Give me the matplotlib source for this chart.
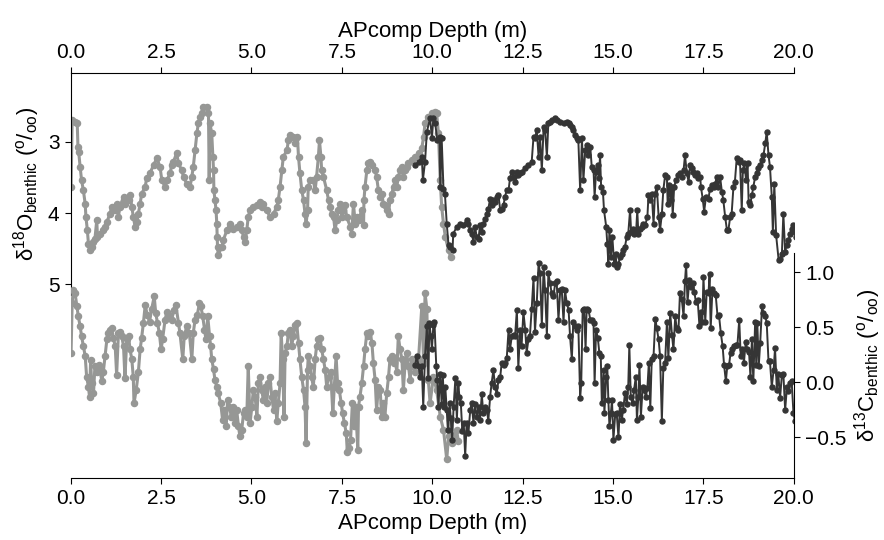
import matplotlib
matplotlib.use("Agg")
import matplotlib.pyplot as plt

plt.rcParams['font.family'] = ['Liberation Sans', 'DejaVu Sans']
plt.rcParams['mathtext.fontset'] = 'custom'
plt.rcParams['mathtext.rm'] = 'Liberation Sans'
plt.rcParams['mathtext.it'] = 'Liberation Sans:italic'
plt.rcParams['axes.unicode_minus'] = True

# d18O, older (light) record
d18_light_depth = [0.01, 0.04, 0.12, 0.18, 0.20, 0.22, 0.26, 0.30, 0.35, 0.40, 0.42, 0.46, 0.49, 0.53,
                   0.58, 0.63, 0.67, 0.72, 0.74, 0.81, 0.90, 0.95, 1.00, 1.09, 1.13, 1.23, 1.27, 1.32,
                   1.36, 1.46, 1.50, 1.60, 1.64, 1.69, 1.73, 1.78, 1.83, 1.87, 1.92, 1.96, 2.06, 2.10,
                   2.19, 2.29, 2.38, 2.47, 2.52, 2.61, 2.66, 2.75, 2.79, 2.84, 2.93, 2.98, 3.07, 3.12,
                   3.21, 3.30, 3.35, 3.39, 3.44, 3.49, 3.53, 3.58, 3.62, 3.67, 3.76, 3.81, 3.83, 3.85,
                   3.90, 3.93, 3.95, 3.96, 3.99, 4.02, 4.04, 4.05, 4.06, 4.08, 4.18, 4.22, 4.32, 4.41,
                   4.50, 4.59, 4.68, 4.73, 4.78, 4.82, 4.87, 4.91, 4.96, 5.05, 5.15, 5.24, 5.28, 5.33,
                   5.42, 5.51, 5.61, 5.70, 5.74, 5.79, 5.84, 5.88, 5.98, 6.02, 6.07, 6.16, 6.21, 6.27,
                   6.30, 6.34, 6.39, 6.44, 6.48, 6.51, 6.55, 6.57, 6.62, 6.71, 6.76, 6.80, 6.85, 6.88,
                   6.92, 6.94, 6.99, 7.08, 7.13, 7.17, 7.22, 7.27, 7.31, 7.36, 7.40, 7.45, 7.50, 7.54,
                   7.59, 7.63, 7.73, 7.77, 7.82, 7.87, 7.91, 7.96, 8.05, 8.10, 8.11, 8.14, 8.19, 8.23,
                   8.28, 8.33, 8.42, 8.46, 8.51, 8.56, 8.60, 8.65, 8.70, 8.74, 8.79, 8.83, 8.88, 8.93,
                   8.97, 9.02, 9.06, 9.11, 9.16, 9.20, 9.25, 9.29, 9.34, 9.43, 9.52, 9.62, 9.71, 9.76,
                   9.80, 9.89, 9.99, 10.08, 10.12, 10.17, 10.22, 10.26, 10.31, 10.36, 10.45, 10.51]
d18_light = [3.63, 2.70, 2.72, 2.74, 3.07, 3.14, 3.35, 3.54, 3.68, 3.87, 4.05, 4.24, 4.43, 4.52,
             4.47, 4.40, 4.36, 4.10, 4.33, 4.29, 4.24, 4.19, 4.12, 4.01, 3.91, 3.96, 3.87, 4.05,
             3.91, 3.77, 3.87, 3.82, 3.75, 3.91, 4.05, 4.19, 4.12, 4.01, 3.87, 3.73, 3.63, 3.51,
             3.44, 3.33, 3.23, 3.35, 3.54, 3.63, 3.54, 3.44, 3.33, 3.28, 3.16, 3.30, 3.40, 3.49,
             3.59, 3.63, 3.49, 3.35, 3.12, 2.88, 2.74, 2.65, 2.60, 2.51, 2.51, 2.60, 3.54, 2.74,
             2.88, 3.21, 3.40, 3.68, 3.82, 3.96, 4.15, 4.33, 4.47, 4.59, 4.47, 4.38, 4.24, 4.15,
             4.22, 4.19, 4.15, 4.24, 4.33, 4.40, 4.24, 4.05, 3.96, 3.91, 3.89, 3.84, 3.91, 3.87,
             3.96, 4.05, 4.01, 3.91, 3.82, 3.63, 3.40, 3.21, 3.12, 2.98, 2.91, 2.93, 3.02, 2.93,
             3.21, 3.44, 3.68, 3.82, 4.01, 4.15, 3.96, 3.63, 3.54, 3.54, 3.68, 3.49, 3.21, 2.98,
             3.21, 3.40, 3.49, 3.68, 3.82, 3.91, 4.01, 4.05, 4.24, 4.10, 3.96, 3.87, 4.05, 3.96,
             3.89, 4.05, 4.19, 4.29, 3.87, 4.15, 4.05, 4.10, 3.96, 4.17, 3.82, 3.63, 3.40, 3.30,
             3.28, 3.33, 3.40, 3.49, 3.68, 3.77, 3.73, 3.87, 3.89, 3.96, 4.01, 3.82, 3.73, 3.63,
             3.54, 3.63, 3.49, 3.40, 3.35, 3.49, 3.40, 3.35, 3.30, 3.26, 3.21, 3.16, 3.09, 2.93,
             2.74, 2.65, 2.60, 2.58, 2.60, 2.88, 3.54, 3.91, 4.15, 4.33, 4.52, 4.62]

# d18O, younger (dark) record
d18_dark_depth = [9.53, 9.62, 9.71, 9.74, 9.80, 9.85, 9.94, 9.99, 10.03, 10.08, 10.14, 10.20, 10.22,
                  10.26, 10.31, 10.35, 10.40, 10.45, 10.49, 10.56, 10.58, 10.68, 10.77, 10.86, 10.95,
                  11.00, 11.05, 11.09, 11.14, 11.18, 11.23, 11.28, 11.32, 11.37, 11.41, 11.46, 11.51,
                  11.55, 11.60, 11.64, 11.69, 11.74, 11.78, 11.83, 11.88, 11.92, 11.97, 12.01, 12.06,
                  12.11, 12.15, 12.20, 12.25, 12.29, 12.34, 12.38, 12.43, 12.47, 12.57, 12.66, 12.75,
                  12.80, 12.84, 12.89, 12.94, 12.98, 13.03, 13.08, 13.12, 13.17, 13.21, 13.26, 13.30,
                  13.40, 13.44, 13.54, 13.63, 13.72, 13.77, 13.81, 13.86, 13.90, 13.95, 14.00, 14.04,
                  14.09, 14.14, 14.18, 14.23, 14.27, 14.32, 14.37, 14.41, 14.46, 14.49, 14.53, 14.58,
                  14.61, 14.64, 14.67, 14.72, 14.75, 14.81, 14.84, 14.87, 14.90, 14.94, 14.98, 15.03,
                  15.07, 15.10, 15.15, 15.19, 15.24, 15.28, 15.33, 15.38, 15.42, 15.47, 15.50, 15.54,
                  15.59, 15.64, 15.67, 15.70, 15.75, 15.80, 15.84, 15.89, 15.95, 15.98, 16.03, 16.07,
                  16.12, 16.16, 16.21, 16.26, 16.30, 16.35, 16.39, 16.44, 16.49, 16.51, 16.56, 16.59,
                  16.62, 16.65, 16.69, 16.74, 16.81, 16.85, 16.90, 16.95, 16.99, 17.04, 17.09, 17.13,
                  17.18, 17.22, 17.27, 17.31, 17.36, 17.41, 17.43, 17.48, 17.52, 17.57, 17.64, 17.68,
                  17.73, 17.78, 17.82, 17.87, 17.91, 17.96, 18.01, 18.05, 18.10, 18.15, 18.19, 18.24,
                  18.28, 18.33, 18.37, 18.42, 18.47, 18.51, 18.56, 18.59, 18.63, 18.68, 18.72, 18.75,
                  18.79, 18.84, 18.88, 18.93, 18.98, 19.02, 19.07, 19.11, 19.16, 19.21, 19.25, 19.30,
                  19.34, 19.39, 19.42, 19.46, 19.51, 19.58, 19.62, 19.67, 19.71, 19.76, 19.80, 19.85,
                  19.90, 19.94, 19.99, 20.03, 20.06]
d18_dark = [3.33, 3.28, 3.21, 3.54, 3.28, 2.86, 2.67, 2.95, 2.67, 2.74, 2.98, 2.93, 3.63,
            2.95, 3.66, 3.73, 4.15, 4.45, 4.47, 4.52, 4.29, 4.19, 4.15, 4.17, 4.10,
            4.15, 4.24, 4.29, 4.40, 4.19, 4.33, 4.36, 4.17, 4.26, 4.15, 4.08, 4.01,
            3.94, 3.80, 3.89, 3.82, 3.84, 3.77, 3.75, 3.96, 3.94, 3.89, 3.77, 3.68,
            3.68, 3.51, 3.42, 3.49, 3.56, 3.42, 3.47, 3.44, 3.42, 3.37, 3.33, 3.28,
            2.93, 2.95, 2.84, 3.21, 2.93, 3.40, 2.79, 2.84, 3.21, 2.74, 2.72, 2.70,
            2.67, 2.70, 2.72, 2.74, 2.72, 2.74, 2.77, 2.79, 2.84, 2.91, 2.95, 2.98,
            3.68, 2.95, 3.54, 3.12, 3.05, 3.19, 3.07, 3.35, 3.40, 3.77, 3.42, 3.33,
            3.51, 3.19, 3.63, 3.70, 3.96, 4.19, 4.43, 4.71, 4.24, 4.62, 4.33, 4.71,
            4.57, 4.76, 4.71, 4.62, 4.57, 4.52, 4.47, 4.33, 4.29, 3.96, 4.26, 4.22,
            4.29, 4.24, 3.96, 4.29, 4.22, 4.19, 4.15, 4.17, 4.05, 3.75, 3.82, 3.73,
            4.15, 3.73, 3.63, 4.05, 4.24, 4.01, 3.68, 3.47, 3.49, 3.87, 3.61, 3.82,
            3.63, 4.03, 3.63, 3.54, 3.47, 3.44, 3.49, 3.40, 3.19, 3.44, 3.56, 3.33,
            3.37, 3.42, 3.47, 3.44, 3.51, 3.49, 3.63, 3.80, 3.98, 3.77, 3.80, 3.66,
            3.61, 3.63, 3.59, 3.50, 3.63, 3.49, 3.70, 3.82, 4.05, 4.24, 4.24, 4.05,
            4.01, 3.63, 3.56, 3.23, 3.28, 3.26, 3.96, 3.40, 3.30, 3.54, 3.30, 3.84,
            3.89, 3.75, 3.63, 3.49, 3.44, 3.37, 3.33, 3.26, 3.19, 3.02, 2.86, 3.19,
            3.35, 3.77, 4.26, 3.59, 4.31, 4.66, 4.64, 4.57, 4.01, 4.54, 4.45, 4.38,
            4.29, 4.22, 4.17, 4.26, 4.33]

# d13C, older (light) record
d13_light_depth = [0.01, 0.04, 0.07, 0.12, 0.17, 0.21, 0.26, 0.30, 0.35, 0.40, 0.44, 0.49, 0.52, 0.55,
                   0.58, 0.63, 0.67, 0.72, 0.77, 0.81, 0.86, 0.90, 0.95, 1.00, 1.04, 1.09, 1.13, 1.18,
                   1.23, 1.27, 1.32, 1.36, 1.41, 1.46, 1.50, 1.55, 1.60, 1.64, 1.69, 1.73, 1.75, 1.81,
                   1.87, 1.92, 1.96, 2.01, 2.06, 2.12, 2.18, 2.24, 2.31, 2.35, 2.40, 2.45, 2.50, 2.54,
                   2.61, 2.66, 2.73, 2.79, 2.86, 2.91, 2.98, 3.02, 3.10, 3.14, 3.21, 3.28, 3.35, 3.39,
                   3.44, 3.50, 3.56, 3.60, 3.65, 3.70, 3.74, 3.79, 3.84, 3.87, 3.90, 3.95, 3.99, 4.04,
                   4.08, 4.15, 4.20, 4.24, 4.30, 4.34, 4.39, 4.44, 4.48, 4.55, 4.59, 4.64, 4.68, 4.73,
                   4.78, 4.82, 4.87, 4.91, 4.96, 5.01, 5.05, 5.10, 5.15, 5.19, 5.24, 5.28, 5.33, 5.38,
                   5.42, 5.47, 5.51, 5.56, 5.61, 5.65, 5.70, 5.74, 5.79, 5.82, 5.86, 5.90, 5.93, 5.98,
                   6.02, 6.07, 6.11, 6.16, 6.21, 6.25, 6.30, 6.34, 6.39, 6.44, 6.48, 6.51, 6.55, 6.57,
                   6.62, 6.66, 6.71, 6.76, 6.80, 6.85, 6.90, 6.94, 6.99, 7.04, 7.08, 7.13, 7.19, 7.25,
                   7.29, 7.34, 7.38, 7.43, 7.48, 7.52, 7.57, 7.62, 7.65, 7.70, 7.74, 7.79, 7.84, 7.88,
                   7.94, 7.96, 8.00, 8.05, 8.10, 8.14, 8.19, 8.23, 8.28, 8.33, 8.37, 8.42, 8.46, 8.51,
                   8.56, 8.60, 8.65, 8.69, 8.74, 8.79, 8.83, 8.88, 8.93, 8.97, 9.02, 9.06, 9.11, 9.16,
                   9.20, 9.25, 9.29, 9.34, 9.39, 9.43, 9.48, 9.52, 9.62, 9.71, 9.76, 9.80, 9.85, 9.89,
                   9.94, 10.03, 10.12, 10.22, 10.31, 10.40, 10.45, 10.49, 10.54, 10.58, 10.67, 10.72]
d13_light = [0.27, 0.72, 0.84, 0.81, 0.69, 0.60, 0.51, 0.42, 0.33, 0.24, 0.05, -0.04, -0.13, 0.20,
             -0.01, -0.10, 0.15, 0.09, 0.16, 0.11, 0.01, 0.09, 0.24, 0.39, 0.45, 0.48, 0.49, 0.40,
             0.33, 0.07, 0.45, 0.46, 0.42, 0.33, 0.04, 0.39, 0.42, 0.30, 0.21, 0.05, -0.19, -0.07,
             0.09, 0.30, 0.40, 0.54, 0.70, 0.61, 0.55, 0.67, 0.78, 0.63, 0.54, 0.45, 0.30, 0.39,
             0.57, 0.64, 0.61, 0.57, 0.66, 0.70, 0.54, 0.45, 0.21, 0.42, 0.51, 0.45, 0.21, 0.45,
             0.57, 0.61, 0.72, 0.69, 0.60, 0.48, 0.39, 0.60, 0.42, 0.33, 0.21, 0.12, 0.02, -0.04,
             -0.10, -0.19, -0.34, -0.25, -0.40, -0.16, -0.22, -0.31, -0.22, -0.37, -0.25, -0.40, -0.49, -0.43,
             -0.28, -0.25, -0.31, 0.15, -0.37, -0.22, -0.07, -0.13, -0.31, -0.01, 0.05, -0.07, -0.16, -0.04,
             -0.19, -0.01, 0.05, -0.13, -0.25, -0.10, -0.35, -0.19, -0.01, 0.45, 0.21, -0.31, 0.27, 0.33,
             0.45, 0.48, 0.33, 0.42, 0.52, 0.54, 0.36, 0.21, 0.05, -0.07, -0.22, -0.55, 0.11, 0.24,
             0.15, 0.05, -0.04, 0.21, 0.33, 0.39, 0.40, 0.30, 0.21, 0.11, -0.04, 0.05, 0.09, -0.28,
             -0.04, 0.24, -0.01, -0.07, -0.19, -0.28, -0.37, -0.46, -0.63, -0.60, -0.52, -0.19, -0.40, -0.22,
             -0.61, -0.22, -0.13, -0.01, 0.15, 0.30, 0.45, 0.42, 0.46, 0.36, 0.18, 0.02, -0.25, -0.04,
             -0.07, -0.31, -0.19, -0.31, -0.10, 0.05, 0.21, 0.24, 0.18, 0.22, 0.09, 0.42, 0.30, 0.21,
             -0.07, 0.18, 0.27, 0.15, 0.02, 0.21, 0.15, 0.09, 0.21, 0.69, 0.18, 0.81, 0.67, 0.02,
             -0.19, 0.05, -0.07, -0.31, -0.43, -0.70, -0.49, -0.34, -0.55, -0.49, -0.43, -0.53]

# d13C, younger (dark) record
d13_dark_depth = [9.53, 9.57, 9.62, 9.66, 9.71, 9.75, 9.80, 9.85, 9.89, 9.92, 9.96, 9.99, 10.03,
                  10.06, 10.11, 10.14, 10.17, 10.22, 10.26, 10.29, 10.33, 10.36, 10.40, 10.43, 10.48,
                  10.51, 10.55, 10.59, 10.64, 10.68, 10.72, 10.75, 10.79, 10.83, 10.87, 10.91, 10.95,
                  11.00, 11.05, 11.09, 11.14, 11.18, 11.23, 11.28, 11.32, 11.37, 11.41, 11.46, 11.51,
                  11.55, 11.60, 11.64, 11.69, 11.74, 11.78, 11.83, 11.88, 11.92, 11.97, 12.01, 12.06,
                  12.11, 12.15, 12.20, 12.25, 12.29, 12.34, 12.38, 12.43, 12.47, 12.52, 12.57, 12.61,
                  12.66, 12.70, 12.75, 12.80, 12.84, 12.89, 12.94, 12.98, 13.03, 13.08, 13.12, 13.17,
                  13.21, 13.26, 13.30, 13.35, 13.40, 13.44, 13.49, 13.54, 13.58, 13.63, 13.67, 13.72,
                  13.77, 13.81, 13.86, 13.90, 13.95, 14.00, 14.04, 14.09, 14.12, 14.16, 14.20, 14.24,
                  14.27, 14.32, 14.37, 14.41, 14.46, 14.49, 14.53, 14.58, 14.62, 14.66, 14.69, 14.74,
                  14.76, 14.81, 14.84, 14.87, 14.90, 14.94, 14.97, 15.01, 15.06, 15.10, 15.15, 15.19,
                  15.24, 15.28, 15.33, 15.38, 15.42, 15.45, 15.49, 15.54, 15.58, 15.63, 15.66, 15.70,
                  15.73, 15.77, 15.82, 15.86, 15.91, 15.95, 15.99, 16.03, 16.07, 16.12, 16.17, 16.21,
                  16.26, 16.30, 16.35, 16.39, 16.44, 16.49, 16.53, 16.58, 16.63, 16.67, 16.72, 16.76,
                  16.81, 16.85, 16.90, 16.95, 16.99, 17.02, 17.06, 17.11, 17.15, 17.21, 17.25, 17.29,
                  17.34, 17.39, 17.43, 17.47, 17.50, 17.55, 17.59, 17.64, 17.67, 17.70, 17.75, 17.80,
                  17.84, 17.89, 17.93, 17.98, 18.03, 18.07, 18.12, 18.16, 18.21, 18.25, 18.30, 18.35,
                  18.39, 18.44, 18.49, 18.53, 18.58, 18.62, 18.67, 18.71, 18.76, 18.80, 18.84, 18.88,
                  18.93, 18.96, 18.99, 19.03, 19.07, 19.12, 19.16, 19.21, 19.25, 19.30, 19.34, 19.39,
                  19.44, 19.48, 19.53, 19.57, 19.62, 19.67, 19.71, 19.76, 19.81, 19.85, 19.90, 19.94,
                  19.99, 20.03]
d13_dark = [0.16, 0.24, 0.15, 0.05, 0.15, -0.22, 0.24, 0.51, 0.04, 0.54, 0.42, 0.30, 0.52,
            0.55, 0.15, 0.02, -0.22, 0.08, -0.20, 0.07, -0.22, -0.04, -0.25, -0.43, -0.19,
            -0.32, -0.52, -0.22, 0.04, -0.34, -0.01, -0.13, -0.19, -0.44, -0.37, -0.67, -0.37,
            -0.46, -0.25, -0.19, -0.37, -0.20, -0.31, -0.22, -0.34, -0.11, -0.28, -0.22, -0.25,
            -0.35, -0.13, -0.01, 0.11, -0.04, -0.11, 0.02, 0.05, 0.18, 0.16, 0.18, 0.22,
            0.48, 0.30, 0.42, 0.43, 0.42, 0.66, 0.13, 0.48, 0.33, 0.64, 0.48, 0.27,
            0.39, 0.42, 0.67, 0.95, 0.46, 0.72, 1.08, 0.99, 0.52, 1.05, 0.84, 0.42,
            0.99, 0.90, 0.81, 0.78, 0.90, 0.92, 0.57, 0.84, 0.85, 0.55, 0.84, 0.72,
            0.66, 0.42, 0.21, 0.55, 0.51, 0.48, 0.51, -0.14, -0.01, 0.66, 0.67, 0.30,
            0.67, 0.66, 0.57, 0.57, 0.54, -0.01, 0.48, 0.40, 0.27, 0.24, -0.19, 0.11,
            -0.28, 0.05, 0.15, -0.16, -0.40, -0.28, -0.16, -0.52, -0.29, -0.28, -0.50, -0.20,
            -0.34, -0.25, -0.10, -0.20, -0.04, 0.34, -0.13, -0.19, -0.07, 0.05, -0.34, -0.13,
            0.16, -0.31, -0.04, -0.07, -0.13, -0.05, 0.18, -0.23, 0.21, 0.24, 0.58, 0.49,
            0.39, 0.24, -0.35, 0.13, 0.18, 0.55, 0.22, 0.63, 0.43, 0.30, 0.60, 0.49,
            0.48, 0.81, 0.76, 0.60, 0.92, 1.07, 0.73, 0.93, 0.87, 0.90, 0.82, 0.73,
            0.75, 0.51, 0.64, 0.55, 0.96, 0.55, 0.82, 0.81, 0.98, 0.49, 0.85, 0.81,
            0.79, 0.60, 0.61, 0.45, 0.33, 0.16, 0.01, 0.15, 0.16, 0.27, 0.30, 0.33,
            0.34, 0.34, 0.57, 0.24, 0.30, 0.18, 0.37, 0.30, 0.28, 0.05, 0.39, 0.01,
            0.55, 0.16, 0.54, 0.15, 0.36, 0.69, 0.63, 0.60, 0.54, 0.19, 0.19, -0.04,
            0.11, 0.31, -0.07, 0.08, -0.14, 0.07, 0.08, -0.25, -0.04, -0.08, -0.01, 0.01,
            -0.28, -0.35]

light = '#969795'
dark = '#353535'
# the light record is much denser in the original, so it is drawn a bit heavier
light_style = dict(marker='o', markersize=4.4, linewidth=2.2)
dark_style = dict(marker='o', markersize=3.6, linewidth=1.4)
depth_ticks = [0, 2.5, 5, 7.5, 10, 12.5, 15, 17.5, 20]

fig = plt.figure(figsize=(8.84, 5.4), dpi=100)

# top panel: d18O (inverted)
ax1 = fig.add_axes([0.080, 0.4537, 0.818, 0.411])
ax1.patch.set_alpha(0)
ax1.plot(d18_light_depth, d18_light, color=light, **light_style)
ax1.plot(d18_dark_depth, d18_dark, color=dark, **dark_style)
ax1.set_xlim(0, 20)
ax1.set_ylim(5.15, 2.035)
ax1.set_yticks([3, 4, 5])
ax1.spines['right'].set_visible(False)
ax1.spines['bottom'].set_visible(False)
ax1.xaxis.tick_top()
ax1.xaxis.set_label_position('top')
ax1.set_xticks(depth_ticks)
ax1.set_xlabel('APcomp Depth (m)', fontsize=16)
ax1.set_ylabel('δ$^{18}$O$_{\\mathrm{benthic}}$ ($^{\\mathrm{o}}$/$_{\\mathrm{oo}}$)', fontsize=16)
ax1.tick_params(labelsize=15, length=4.5)

# bottom panel: d13C
ax2 = fig.add_axes([0.080, 0.1157, 0.818, 0.4158])
ax2.patch.set_alpha(0)
ax2.plot(d13_light_depth, d13_light, color=light, **light_style)
ax2.plot(d13_dark_depth, d13_dark, color=dark, **dark_style)
ax2.set_xlim(0, 20)
ax2.set_ylim(-0.864, 1.175)
ax2.set_yticks([-0.5, 0, 0.5, 1.0])
ax2.spines['left'].set_visible(False)
ax2.spines['top'].set_visible(False)
ax2.yaxis.tick_right()
ax2.yaxis.set_label_position('right')
ax2.set_xticks(depth_ticks)
ax2.set_xlabel('APcomp Depth (m)', fontsize=16)
ax2.set_ylabel('δ$^{13}$C$_{\\mathrm{benthic}}$ ($^{\\mathrm{o}}$/$_{\\mathrm{oo}}$)', fontsize=16)
ax2.tick_params(labelsize=15, length=4.5)

fig.savefig('out.png', dpi=100)
